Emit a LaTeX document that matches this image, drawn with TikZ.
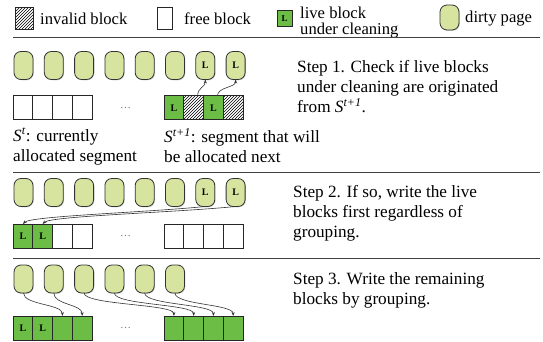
\documentclass[tikz,border=0pt]{standalone}
\usepackage{fontspec}
\setmainfont{Liberation Serif}
\usetikzlibrary{positioning}
\usetikzlibrary{patterns}
\usetikzlibrary{shadows}
\usetikzlibrary{arrows.meta}
\definecolor{pagefill}{RGB}{214,228,160}
\definecolor{livegreen}{RGB}{108,189,69}

\begin{document}
\begin{tikzpicture}[x = 1pt, y = 1pt,
dirty/.style = {shape = rectangle, rounded corners = 7pt, draw = black!80, fill = pagefill, thick, minimum width = 19pt, minimum height = 28pt, inner sep = 0pt, outer sep = 0pt, drop shadow = {shadow xshift = 0.8pt, shadow yshift = -0.8pt, opacity = 0.35}, font = \fontsize{10}{10}\selectfont\bfseries},
cell/.style = {shape = rectangle, draw = black!85, line width = 1pt, minimum width = 19.75pt, minimum height = 24pt, inner sep = 0pt, outer sep = 0pt, font = \fontsize{10}{10}\selectfont\bfseries},
live/.style = {cell, fill = livegreen},
invalid/.style = {cell, pattern = north east lines},
mv/.style = {-{Stealth[length = 4pt, width = 3pt]}, black!80, semithick},
txt/.style = {font = \fontsize{17.2}{20}\selectfont, align = left, inner sep = 0pt, anchor = north west},
legtxt/.style = {font = \fontsize{16.6}{16.5}\selectfont, align = left, inner sep = 0pt, text height = 12pt, text depth = 4pt},
dots/.style = {font = \fontsize{11}{11}\selectfont, text = black!55, inner sep = 0pt},
sep/.style = {black!75, thick},
]
\useasboundingbox (0,0) rectangle (543,-342);

% legend
\node[invalid, minimum width = 18pt, minimum height = 22pt] (inv) at (24,-19) {};
\node[legtxt] (invtxt) [right = 7pt of inv, yshift = -2pt] {invalid block};
\node[cell, minimum width = 15pt, minimum height = 22pt] (fre) at (164.5,-19) {};
\node[legtxt] (fretxt) [right = 12pt of fre, yshift = -2pt] {free block};
\node[live, minimum width = 15pt, minimum height = 16pt, font = \fontsize{9}{9}\selectfont\bfseries] (liv) at (284.5,-19) {L};
\node[legtxt, text height = {}, text depth = {}] (livtxt) [right = 8pt of liv, yshift = -3.5pt] {live block\\under cleaning};
\node[dirty, minimum height = 25pt] (drt) at (449.5,-17.5) {};
\node[legtxt] (drttxt) [right = 6pt of drt, yshift = -1pt] {dirty page};

\draw[sep] (13,-37.5) -- (540,-37.5);

% step 1
\node[dirty] (pa1) at (23.5,-65.5) {};
\node[dirty] (pa2) [right = 11.3pt of pa1] {};
\node[dirty] (pa3) [right = 11.3pt of pa2] {};
\node[dirty] (pa4) [right = 11.3pt of pa3] {};
\node[dirty] (pa5) [right = 11.3pt of pa4] {};
\node[dirty] (pa6) [right = 11.3pt of pa5] {};
\node[dirty] (pa7) [right = 11.3pt of pa6] {L};
\node[dirty] (pa8) [right = 11.3pt of pa7] {L};

\node[cell] (sa1) at (22.9,-108) {};
\node[cell] (sa2) [right = 0pt of sa1] {};
\node[cell] (sa3) [right = 0pt of sa2] {};
\node[cell] (sa4) [right = 0pt of sa3] {};
\node[dots] (da) [right = 28pt of sa4] {\dots};
\node[live] (ta1) [right = 72pt of sa4] {L};
\node[invalid] (ta2) [right = 0pt of ta1] {};
\node[live] (ta3) [right = 0pt of ta2] {L};
\node[invalid] (ta4) [right = 0pt of ta3] {};

\draw[mv] ([xshift = 4pt]ta2.north) .. controls +(0,9) and +(0,-8) .. (pa7.south);
\draw[mv] ([xshift = 4pt]ta3.north) .. controls +(0,9) and +(0,-8) .. (pa8.south);

\node[txt] (sttxt) at ([yshift = -8pt]sa1.south west) {\textit{S}\textsuperscript{\textit{t}}: currently\\allocated segment};
\node[txt] (snxtxt) at ([yshift = -8pt]ta1.south west) {\textit{S}\textsuperscript{\textit{t+1}}: segment that will\\be allocated next};
\node[txt] (step1) at (297,-60) {Step 1. Check if live blocks\\under cleaning are originated\\from \textit{S}\textsuperscript{\textit{t+1}}.};

\draw[sep] (13,-172.5) -- (540,-172.5);

% step 2
\node[dirty] (pb1) at (23.5,-192.5) {};
\node[dirty] (pb2) [right = 11.3pt of pb1] {};
\node[dirty] (pb3) [right = 11.3pt of pb2] {};
\node[dirty] (pb4) [right = 11.3pt of pb3] {};
\node[dirty] (pb5) [right = 11.3pt of pb4] {};
\node[dirty] (pb6) [right = 11.3pt of pb5] {};
\node[dirty] (pb7) [right = 11.3pt of pb6] {L};
\node[dirty] (pb8) [right = 11.3pt of pb7] {L};

\node[live] (sb1) at (22.9,-236) {L};
\node[live] (sb2) [right = 0pt of sb1] {L};
\node[cell] (sb3) [right = 0pt of sb2] {};
\node[cell] (sb4) [right = 0pt of sb3] {};
\node[dots] (db) [right = 28pt of sb4] {\dots};
\node[cell] (tb1) [right = 72pt of sb4] {};
\node[cell] (tb2) [right = 0pt of tb1] {};
\node[cell] (tb3) [right = 0pt of tb2] {};
\node[cell] (tb4) [right = 0pt of tb3] {};

\draw[mv] (pb7.south) .. controls +(-60,-6) and +(8,8) .. (sb1.north);
\draw[mv] (pb8.south) .. controls +(-60,-6) and +(8,8) .. (sb2.north);

\node[txt] (step2) at (293,-185) {Step 2. If so, write the live\\blocks first regardless of\\grouping.};

\draw[sep] (13,-258.5) -- (540,-258.5);

% step 3
\node[dirty] (pc1) at (23.5,-279) {};
\node[dirty] (pc2) [right = 11.3pt of pc1] {};
\node[dirty] (pc3) [right = 11.3pt of pc2] {};
\node[dirty] (pc4) [right = 11.3pt of pc3] {};
\node[dirty] (pc5) [right = 11.3pt of pc4] {};
\node[dirty] (pc6) [right = 11.3pt of pc5] {};

\node[live] (sc1) at (22.9,-328) {L};
\node[live] (sc2) [right = 0pt of sc1] {L};
\node[live] (sc3) [right = 0pt of sc2] {};
\node[live] (sc4) [right = 0pt of sc3] {};
\node[dots] (dc) [right = 28pt of sc4] {\dots};
\node[live] (tc1) [right = 72pt of sc4] {};
\node[live] (tc2) [right = 0pt of tc1] {};
\node[live] (tc3) [right = 0pt of tc2] {};
\node[live] (tc4) [right = 0pt of tc3] {};

\draw[mv] (pc1.south) .. controls +(0,-12) and +(0,12) .. (sc3.north);
\draw[mv] (pc2.south) .. controls +(0,-12) and +(0,12) .. (sc4.north);
\draw[mv] (pc3.south) .. controls +(0,-12) and +(0,12) .. (tc1.north);
\draw[mv] (pc4.south) .. controls +(0,-12) and +(0,12) .. (tc2.north);
\draw[mv] (pc5.south) .. controls +(0,-12) and +(0,12) .. (tc3.north);
\draw[mv] (pc6.south) .. controls +(0,-12) and +(0,12) .. (tc4.north);

\node[txt] (step3) at (293,-272) {Step 3. Write the remaining\\blocks by grouping.};
\end{tikzpicture}
\end{document}
